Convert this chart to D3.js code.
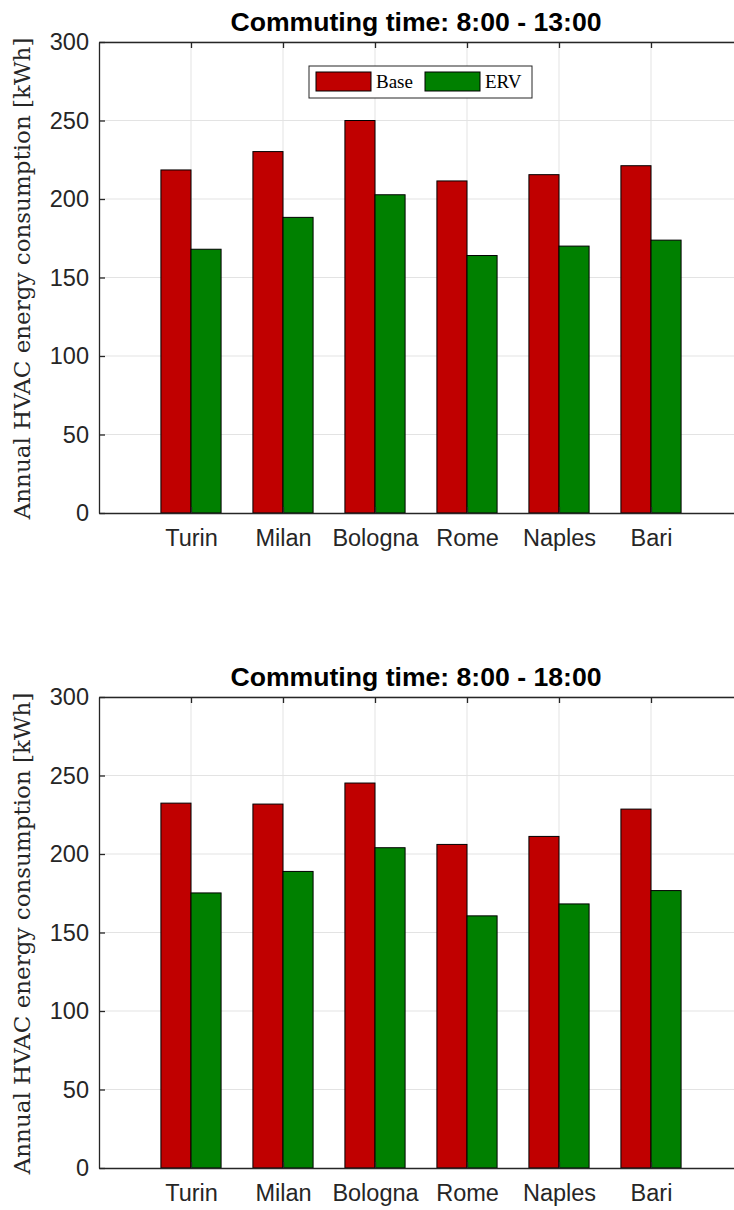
<!DOCTYPE html>
<html>
<head>
<meta charset="utf-8">
<script src="https://cdn.jsdelivr.net/npm/d3@7"></script>
<style>
  body { margin: 0; background: #fff; }
  svg { display: block; }
</style>
</head>
<body>
<div id="chart"></div>
<script>
const cities = ["Turin", "Milan", "Bologna", "Rome", "Naples", "Bari"];
const seriesNames = ["Base", "ERV"];
const seriesColors = ["#c00000", "#008000"];
const yTicks = [0, 50, 100, 150, 200, 250, 300];

// 8:00 - 13:00
const base13 = [218.5, 230.2, 250.0, 211.5, 215.5, 221.2];
const erv13 = [168.0, 188.3, 202.7, 164.0, 170.0, 173.8];
// 8:00 - 18:00
const base18 = [232.4, 231.8, 245.2, 206.1, 211.2, 228.6];
const erv18 = [175.2, 188.9, 204.0, 160.6, 168.2, 176.7];

const panels = [
  { title: "Commuting time: 8:00 - 13:00", base: base13, erv: erv13, top: 42, legend: true },
  { title: "Commuting time: 8:00 - 18:00", base: base18, erv: erv18, top: 697, legend: false }
];

const svgWidth = 734;
const svgHeight = 1210;
const left = 99;
const plotHeight = 471;
const axisColor = "#262626";
const sans = "'Liberation Sans', Arial, sans-serif";

const svg = d3.select("#chart").append("svg")
  .attr("width", svgWidth)
  .attr("height", svgHeight);

const x = d3.scaleLinear().domain([0, 7]).range([left, left + 644]);
const barW = 0.327;

panels.forEach(p => {
  const y = d3.scaleLinear().domain([0, 300]).range([p.top + plotHeight, p.top]);
  const g = svg.append("g");

  // grid
  g.selectAll(".vgrid").data(cities).enter().append("line")
    .attr("x1", (d, i) => x(i + 1)).attr("x2", (d, i) => x(i + 1))
    .attr("y1", y(0)).attr("y2", y(300))
    .attr("stroke", "#e3e3e3").attr("stroke-width", 1);
  g.selectAll(".hgrid").data(yTicks.slice(1)).enter().append("line")
    .attr("x1", x(0)).attr("x2", x(7))
    .attr("y1", d => y(d)).attr("y2", d => y(d))
    .attr("stroke", "#e3e3e3").attr("stroke-width", 1);

  // bars
  [p.base, p.erv].forEach((vals, s) => {
    g.selectAll(".bar" + s).data(vals).enter().append("rect")
      .attr("x", (d, i) => x(i + 1 + (s - 1) * barW))
      .attr("y", d => y(d))
      .attr("width", x(barW) - x(0))
      .attr("height", d => y(0) - y(d))
      .attr("fill", seriesColors[s])
      .attr("stroke", "#000")
      .attr("stroke-width", 1);
  });

  // axes
  const yAxis = g.append("g")
    .attr("transform", `translate(${x(0)},0)`)
    .call(d3.axisLeft(y).tickValues(yTicks).tickSize(-6).tickPadding(10).tickSizeOuter(0));
  const xAxis = g.append("g")
    .attr("transform", `translate(0,${y(0)})`)
    .call(d3.axisBottom(x).tickValues(d3.range(1, 7)).tickFormat(d => cities[d - 1])
      .tickSize(-6).tickPadding(16).tickSizeOuter(0));
  const xTop = g.append("g")
    .attr("transform", `translate(0,${y(300)})`)
    .call(d3.axisTop(x).tickValues(d3.range(1, 7)).tickFormat("")
      .tickSize(-6).tickSizeOuter(0));
  [yAxis, xAxis, xTop].forEach(a => {
    a.select(".domain").attr("stroke", axisColor).attr("stroke-width", 1.3);
    a.selectAll(".tick line").attr("stroke", axisColor).attr("stroke-width", 1.3);
    a.selectAll("text")
      .attr("fill", axisColor)
      .style("font-family", sans)
      .style("font-size", "23.5px");
  });

  // title
  g.append("text")
    .attr("x", 416).attr("y", p.top - 11)
    .attr("text-anchor", "middle")
    .style("font-family", sans)
    .style("font-weight", "bold")
    .style("font-size", "26px")
    .attr("textLength", 371)
    .attr("lengthAdjust", "spacingAndGlyphs")
    .attr("fill", "#000")
    .text(p.title);

  // y label
  g.append("text")
    .attr("transform", `translate(30,${p.top + plotHeight / 2 + 1}) rotate(-90)`)
    .attr("text-anchor", "middle")
    .style("font-family", "'DejaVu Serif', 'Liberation Serif', serif")
    .style("font-size", "23px")
    .attr("fill", axisColor)
    .text("Annual HVAC energy consumption [kWh]");

  if (p.legend) {
    const lg = g.append("g").attr("transform", `translate(309,${p.top + 24})`);
    lg.append("rect").attr("width", 223).attr("height", 32)
      .attr("fill", "#fff").attr("stroke", axisColor).attr("stroke-width", 1);
    const items = [{ x: 7, tx: 67 }, { x: 116, tx: 176 }];
    seriesNames.forEach((n, i) => {
      lg.append("rect").attr("x", items[i].x).attr("y", 6).attr("width", 55).attr("height", 19)
        .attr("fill", seriesColors[i]).attr("stroke", "#000").attr("stroke-width", 1);
      lg.append("text").attr("x", items[i].tx).attr("y", 22)
        .style("font-family", "'Liberation Serif', serif")
        .style("font-size", "19px")
        .attr("fill", "#000")
        .text(n);
    });
  }
});
</script>
</body>
</html>
